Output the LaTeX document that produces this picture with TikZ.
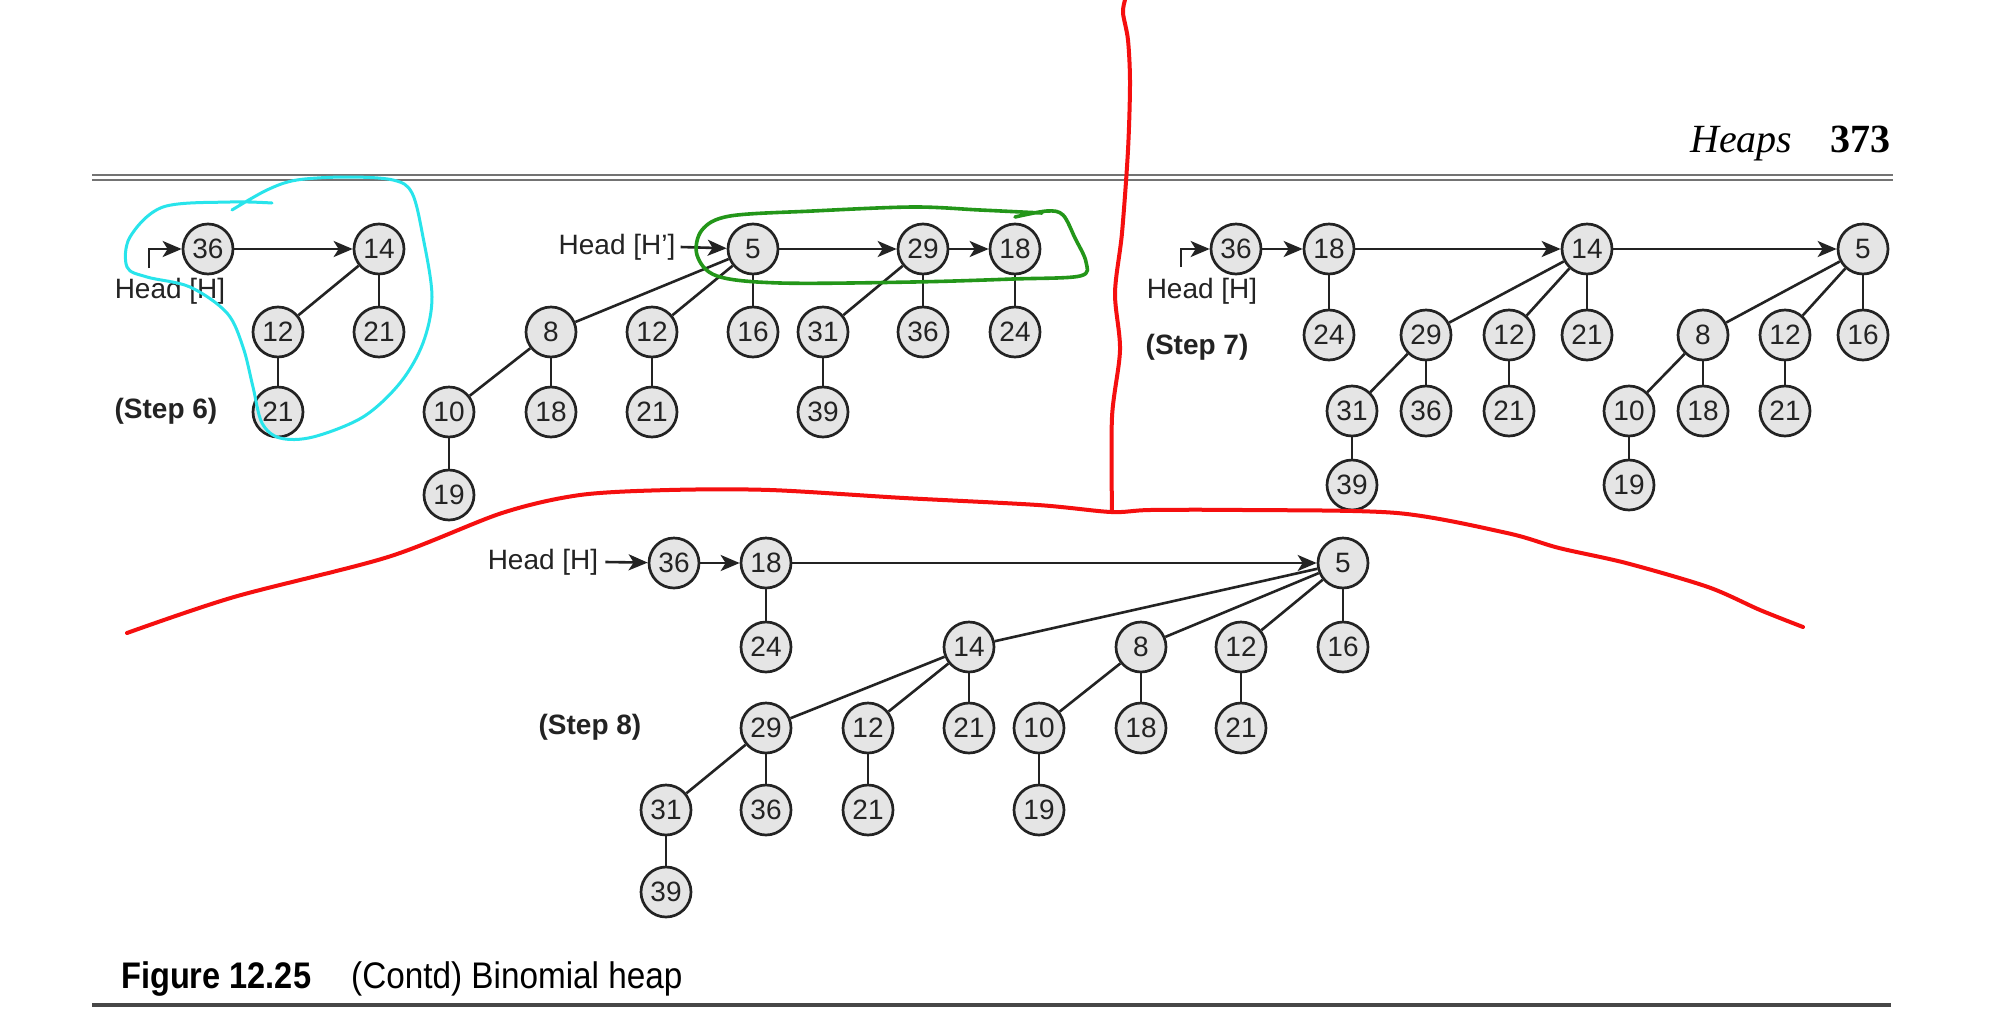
\documentclass[tikz,border=0pt]{standalone}
\usepackage{fontspec}
\setmainfont{Liberation Sans}
\newfontfamily\serifhd{Liberation Serif}
\usetikzlibrary{arrows.meta}
\definecolor{annred}{RGB}{245,15,15}
\definecolor{anncyan}{RGB}{40,228,235}
\definecolor{anngreen}{RGB}{35,150,25}
\definecolor{inkc}{RGB}{35,35,35}
\tikzset{
  hn/.style={circle, draw=inkc, line width=2.7pt, fill=black!10, minimum size=50pt, inner sep=0pt, text=inkc, font=\fontsize{28}{28}\selectfont},
  ed/.style={line width=2.6pt, draw=inkc},
  ar/.style={ed, -{Stealth[length=19pt,width=16pt,inset=5pt]}},
  lbl/.style={font=\fontsize{28}{28}\selectfont, inner sep=0pt, text=inkc},
  stp/.style={font=\fontsize{28}{28}\selectfont\bfseries, inner sep=0pt, text=inkc},
  rulel/.style={line width=2.2pt, draw=black!55},
  annot/.style={line width=4pt, line cap=round, line join=round}
}
\begin{document}
\begin{tikzpicture}[x=1pt,y=-1pt]
\useasboundingbox[fill=white] (0,0) rectangle (2000,1023);

% page header
\node[anchor=base west, inner sep=0pt, font=\serifhd\itshape\fontsize{40}{40}\selectfont] (hdr) at (1690,152) {Heaps};
\node[anchor=base east, inner sep=0pt, font=\serifhd\bfseries\fontsize{40}{40}\selectfont] (pg) at (1891,152) {373};
\coordinate (r1a) at (92,175); \coordinate (r1b) at (1893,175);
\coordinate (r2a) at (92,180); \coordinate (r2b) at (1893,180);
\draw[rulel] (r1a) -- (r1b);
\draw[rulel] (r2a) -- (r2b);

% ---------- Step 6 : H ----------
\node[hn] (a36) at (208,249) {36};
\node[hn] (a14) at (379,249) {14};
\node[hn] (a12) at (278,332) {12};
\node[hn] (a21) at (379,332) {21};
\node[hn] (a21b) at (278,412) {21};
\node[lbl] (ahead) at (170,291) {Head [H]};
\node[stp] (astep) at (166,411) {(Step 6)};
\coordinate (abend) at (149,268);
\draw[ar] (abend) |- (a36);
\draw[ar] (a36) -- (a14);
\draw[ed] (a14) -- (a12);
\draw[ed] (a14) -- (a21);
\draw[ed] (a12) -- (a21b);

% ---------- Step 6 : H' ----------
\node[lbl] (bhead) at (617,247) {Head [H’]};
\node[hn] (b5) at (753,249) {5};
\node[hn] (b29) at (923,249) {29};
\node[hn] (b18) at (1015,249) {18};
\node[hn] (b8) at (551,332) {8};
\node[hn] (b12) at (652,332) {12};
\node[hn] (b16) at (753,332) {16};
\node[hn] (b31) at (823,332) {31};
\node[hn] (b36) at (923,332) {36};
\node[hn] (b24) at (1015,332) {24};
\node[hn] (b10) at (449,412) {10};
\node[hn] (b18b) at (551,412) {18};
\node[hn] (b21) at (652,412) {21};
\node[hn] (b39) at (823,412) {39};
\node[hn] (b19) at (449,495) {19};
\draw[ar] ([xshift=5pt]bhead.east) -- (b5);
\draw[ar] (b5) -- (b29);
\draw[ar] (b29) -- (b18);
\draw[ed] (b5) -- (b8);
\draw[ed] (b5) -- (b12);
\draw[ed] (b5) -- (b16);
\draw[ed] (b29) -- (b31);
\draw[ed] (b29) -- (b36);
\draw[ed] (b18) -- (b24);
\draw[ed] (b8) -- (b10);
\draw[ed] (b8) -- (b18b);
\draw[ed] (b12) -- (b21);
\draw[ed] (b31) -- (b39);
\draw[ed] (b10) -- (b19);

% ---------- Step 7 ----------
\node[hn] (c36) at (1236,249) {36};
\node[hn] (c18) at (1329,249) {18};
\node[hn] (c14) at (1587,249) {14};
\node[hn] (c5) at (1863,249) {5};
\node[hn] (c24) at (1329,335) {24};
\node[hn] (c29) at (1426,335) {29};
\node[hn] (c12) at (1509,335) {12};
\node[hn] (c21) at (1587,335) {21};
\node[hn] (c8) at (1703,335) {8};
\node[hn] (c12b) at (1785,335) {12};
\node[hn] (c16) at (1863,335) {16};
\node[hn] (c31) at (1352,411) {31};
\node[hn] (c36b) at (1426,411) {36};
\node[hn] (c21b) at (1509,411) {21};
\node[hn] (c10) at (1629,411) {10};
\node[hn] (c18b) at (1703,411) {18};
\node[hn] (c21c) at (1785,411) {21};
\node[hn] (c39) at (1352,485) {39};
\node[hn] (c19) at (1629,485) {19};
\node[lbl] (chead) at (1202,291) {Head [H]};
\node[stp] (cstep) at (1197,347) {(Step 7)};
\coordinate (cbend) at (1181,267);
\draw[ar] (cbend) |- (c36);
\draw[ar] (c36) -- (c18);
\draw[ar] (c18) -- (c14);
\draw[ar] (c14) -- (c5);
\draw[ed] (c18) -- (c24);
\draw[ed] (c14) -- (c29);
\draw[ed] (c14) -- (c12);
\draw[ed] (c14) -- (c21);
\draw[ed] (c5) -- (c8);
\draw[ed] (c5) -- (c12b);
\draw[ed] (c5) -- (c16);
\draw[ed] (c29) -- (c31);
\draw[ed] (c29) -- (c36b);
\draw[ed] (c12) -- (c21b);
\draw[ed] (c8) -- (c10);
\draw[ed] (c8) -- (c18b);
\draw[ed] (c12b) -- (c21c);
\draw[ed] (c31) -- (c39);
\draw[ed] (c10) -- (c19);

% ---------- Step 8 ----------
\node[lbl] (dhead) at (543,562) {Head [H]};
\node[hn] (d36) at (674,563) {36};
\node[hn] (d18) at (766,563) {18};
\node[hn] (d5) at (1343,563) {5};
\node[hn] (d24) at (766,647) {24};
\node[hn] (d14) at (969,647) {14};
\node[hn] (d8) at (1141,647) {8};
\node[hn] (d12) at (1241,647) {12};
\node[hn] (d16) at (1343,647) {16};
\node[hn] (d29) at (766,728) {29};
\node[hn] (d12b) at (868,728) {12};
\node[hn] (d21) at (969,728) {21};
\node[hn] (d10) at (1039,728) {10};
\node[hn] (d18b) at (1141,728) {18};
\node[hn] (d21b) at (1241,728) {21};
\node[hn] (d31) at (666,810) {31};
\node[hn] (d36b) at (766,810) {36};
\node[hn] (d21c) at (868,810) {21};
\node[hn] (d19) at (1039,810) {19};
\node[hn] (d39) at (666,892) {39};
\node[stp] (dstep) at (590,727) {(Step 8)};
\draw[ar] ([xshift=7pt]dhead.east) -- (d36);
\draw[ar] (d36) -- (d18);
\draw[ar] (d18) -- (d5);
\draw[ed] (d18) -- (d24);
\draw[ed] (d5) -- (d14);
\draw[ed] (d5) -- (d8);
\draw[ed] (d5) -- (d12);
\draw[ed] (d5) -- (d16);
\draw[ed] (d14) -- (d29);
\draw[ed] (d14) -- (d12b);
\draw[ed] (d14) -- (d21);
\draw[ed] (d8) -- (d10);
\draw[ed] (d8) -- (d18b);
\draw[ed] (d12) -- (d21b);
\draw[ed] (d29) -- (d31);
\draw[ed] (d29) -- (d36b);
\draw[ed] (d12b) -- (d21c);
\draw[ed] (d31) -- (d39);
\draw[ed] (d10) -- (d19);

% caption and bottom rule
\node[anchor=base west, inner sep=0pt, font=\fontsize{37}{37}\selectfont\bfseries] (fig) at (121,988) {\scalebox{0.88}[1]{Figure 12.25}};
\node[anchor=base west, inner sep=0pt, font=\fontsize{37}{37}\selectfont] (cap) at (351,988) {\scalebox{0.9}[1]{(Contd) Binomial heap}};
\coordinate (r3a) at (92,1005); \coordinate (r3b) at (1891,1005);
\draw[line width=4.5pt, draw=black!72] (r3a) -- (r3b);

% ---------- hand-drawn annotations ----------
\draw[annot, anncyan, line width=3pt] plot[smooth, tension=0.55] coordinates {
 (272,203) (230,202) (163,207) (130,237) (127,267) (147,277) (190,287) (227,313)
 (243,347) (253,387) (262,423) (280,438) (313,437) (363,417) (400,383) (423,343)
 (432,297) (423,237) (412,193) (393,180) (347,177) (297,180) (267,190) (232,210)};
\draw[annot, anngreen, line width=3.6pt] plot[smooth, tension=0.55] coordinates {
 (1042,213) (980,210) (913,207) (813,211) (730,216) (702,230) (697,255) (717,276)
 (780,283) (913,282) (1013,279) (1080,276) (1086,262) (1075,238) (1063,215)
 (1047,211) (1015,217)};
\draw[annot, annred] plot[smooth, tension=0.5] coordinates {
 (1125,0) (1123,13) (1128,40) (1130,83) (1128,150) (1122,233) (1115,293)
 (1120,350) (1112,417) (1112,512)};
\draw[annot, annred] plot[smooth, tension=0.5] coordinates {
 (127,633) (234,597) (388,557) (502,513) (580,495) (669,490) (770,490) (904,498)
 (1038,505) (1111,512) (1150,510) (1243,510) (1397,513) (1507,533) (1559,548)
 (1626,563) (1708,587) (1760,610) (1803,627)};
\end{tikzpicture}
\end{document}
